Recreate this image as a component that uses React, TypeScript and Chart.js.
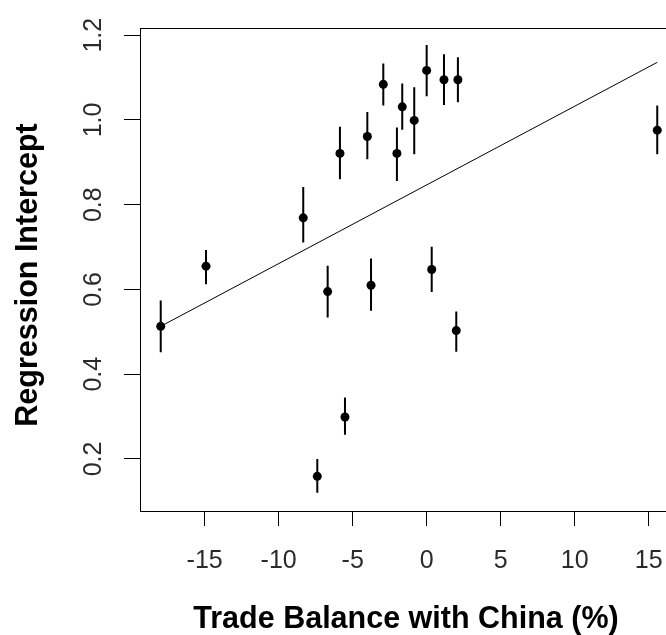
import React, { useEffect, useRef } from 'react';
import { Chart, registerables } from 'chart.js';

Chart.register(...registerables);

// ---- data ----
const tradeBalance = [-17.97, -14.91, -8.34, -7.39, -6.69, -5.86, -5.52, -4.01, -3.76, -2.93, -2.01, -1.65, -0.84, 0.0, 0.34, 1.17, 2.0, 2.11, 15.58];
const intercept = [0.513, 0.655, 0.769, 0.159, 0.595, 0.921, 0.299, 0.961, 0.610, 1.084, 0.921, 1.031, 0.999, 1.117, 0.647, 1.095, 0.503, 1.095, 0.976];
const errLow = [0.452, 0.612, 0.711, 0.120, 0.534, 0.860, 0.257, 0.907, 0.550, 1.034, 0.856, 0.977, 0.919, 1.056, 0.594, 1.035, 0.453, 1.042, 0.919];
const errHigh = [0.574, 0.693, 0.842, 0.200, 0.656, 0.984, 0.345, 1.019, 0.673, 1.133, 0.982, 1.086, 1.077, 1.177, 0.701, 1.155, 0.548, 1.148, 1.034];
const fitX = [-17.97, 15.58];
const fitY = [0.513, 1.136];
const xTicks = [-15, -10, -5, 0, 5, 10, 15];
const yTicks = [0.2, 0.4, 0.6, 0.8, 1.0, 1.2];
const xTitle = 'Trade Balance with China (%)';
const yTitle = 'Regression Intercept';

const FONT = '"Liberation Sans", Arial, Helvetica, sans-serif';

const framePlugin = {
  id: 'rframe',
  afterDraw(chart: any) {
    const { ctx, chartArea } = chart;
    const { left, top, right, bottom } = chartArea;
    ctx.save();
    ctx.strokeStyle = '#000';
    ctx.lineWidth = 1;
    ctx.strokeRect(left + 0.5, top + 0.5, right - left, bottom - top);

    ctx.fillStyle = '#000';
    ctx.font = `bold 30.5px ${FONT}`;
    ctx.textAlign = 'center';
    ctx.textBaseline = 'alphabetic';
    ctx.fillText(xTitle, 406, 628);

    ctx.translate(37, 275);
    ctx.rotate(-Math.PI / 2);
    ctx.fillText(yTitle, 0, 0);
    ctx.restore();
  },
};

export default function App() {
  const ref = useRef<HTMLCanvasElement>(null);

  useEffect(() => {
    const errData: any[] = [];
    tradeBalance.forEach((x, i) => {
      errData.push({ x, y: errLow[i] }, { x, y: errHigh[i] }, { x, y: null });
    });
    const fitData = fitX.map((x, i) => ({ x, y: fitY[i] }));
    const pts = tradeBalance.map((x, i) => ({ x, y: intercept[i] }));

    const chart = new Chart(ref.current as HTMLCanvasElement, {
      type: 'scatter',
      data: {
        datasets: [
          {
            type: 'line',
            data: errData,
            borderColor: '#000',
            borderWidth: 2,
            pointRadius: 0,
            spanGaps: false,
            fill: false,
            tension: 0,
          } as any,
          {
            type: 'line',
            data: fitData,
            borderColor: '#000',
            borderWidth: 1,
            pointRadius: 0,
            fill: false,
            tension: 0,
          } as any,
          {
            type: 'scatter',
            data: pts,
            pointRadius: 4.5,
            pointHoverRadius: 4.5,
            backgroundColor: '#000',
            borderWidth: 0,
          } as any,
        ],
      },
      options: {
        responsive: false,
        animation: false,
        events: [],
        layout: { padding: { top: 22, right: 13, left: 0, bottom: 0 } },
        plugins: { legend: { display: false }, tooltip: { enabled: false } },
        scales: {
          x: {
            type: 'linear',
            position: 'bottom',
            min: -19.37,
            max: 17.59,
            afterBuildTicks: (s: any) => {
              s.ticks = xTicks.map((v) => ({ value: v }));
            },
            afterFit: (s: any) => {
              s.height = 124;
            },
            grid: { drawOnChartArea: false, drawTicks: true, tickLength: 15, color: '#000', lineWidth: 1 },
            border: { display: false },
            ticks: {
              font: { family: FONT, size: 25 },
              color: '#2a2a2a',
              padding: 20,
              minRotation: 0,
              maxRotation: 0,
              autoSkip: false,
              callback: (v: any) => String(v),
            },
          },
          y: {
            type: 'linear',
            position: 'left',
            min: 0.0772,
            max: 1.217,
            afterBuildTicks: (s: any) => {
              s.ticks = yTicks.map((v) => ({ value: v }));
            },
            afterFit: (s: any) => {
              s.width = 140;
            },
            grid: { drawOnChartArea: false, drawTicks: true, tickLength: 16, color: '#000', lineWidth: 1 },
            border: { display: false },
            ticks: {
              font: { family: FONT, size: 25 },
              color: '#2a2a2a',
              padding: 13,
              minRotation: 90,
              maxRotation: 90,
              crossAlign: 'center',
              autoSkip: false,
              callback: (v: any) => Number(v).toFixed(1),
            },
          },
        },
      } as any,
      plugins: [framePlugin],
    });
    return () => chart.destroy();
  }, []);

  return (
    <div style={{ position: 'fixed', left: 0, top: 0, width: 666, height: 635, overflow: 'hidden', background: '#fff' }}>
      <canvas ref={ref} width={700} height={635} style={{ display: 'block' }} />
    </div>
  );
}
